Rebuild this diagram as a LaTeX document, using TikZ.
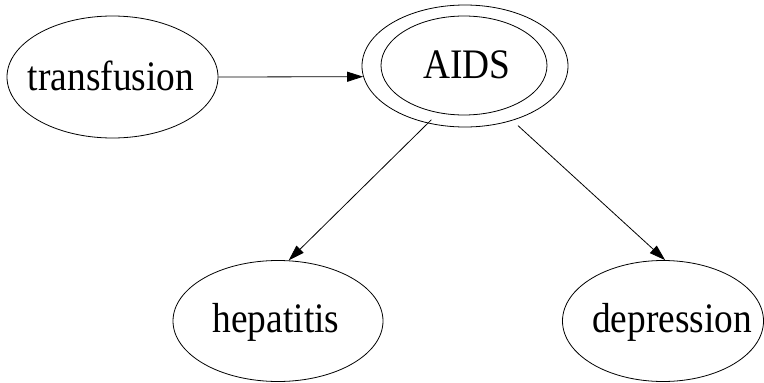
\documentclass[tikz,border=0pt]{standalone}
\usepackage{fontspec}
\setmainfont[FakeStretch=0.89]{Liberation Serif}
\usetikzlibrary{shapes.geometric,arrows.meta}
\tikzset{
  ell/.style={draw, ellipse, inner sep=0pt, line width=0.8pt},
  lbl/.style={anchor=base, inner sep=0pt, font=\fontsize{42pt}{50pt}\selectfont},
  arr/.style={line width=0.8pt, -{Triangle[length=16pt,width=10pt]}}
}
\begin{document}
\begin{tikzpicture}[x=1pt,y=-1pt]
\useasboundingbox (0,0) rectangle (764,383);
% nodes
\node[ell, minimum width=211pt, minimum height=122pt] (T) at (112.5,77) {};
\node[lbl] (Tl) at (111,90) {transfusion};
\node[ell, minimum width=206pt, minimum height=122pt] (A) at (465,66) {};
\node[ell, minimum width=166pt, minimum height=99pt] (Ai) at (464,65.5) {};
\node[lbl] (Al) at (467,78) {AIDS};
\node[ell, minimum width=210pt, minimum height=121pt] (H) at (278,321) {};
\node[lbl] (Hl) at (276,332) {hepatitis};
\node[ell, minimum width=201pt, minimum height=121pt] (D) at (663,321) {};
\node[lbl] (Dl) at (672,332) {depression};
% connectors
\draw[arr] (T.east) -- (A.186);
\draw[arr, shorten <=-5pt] (A.237) -- (H.80.5);
\draw[arr, shorten <=7.5pt] (A.311.3) -- (D.88);
\end{tikzpicture}
\end{document}
